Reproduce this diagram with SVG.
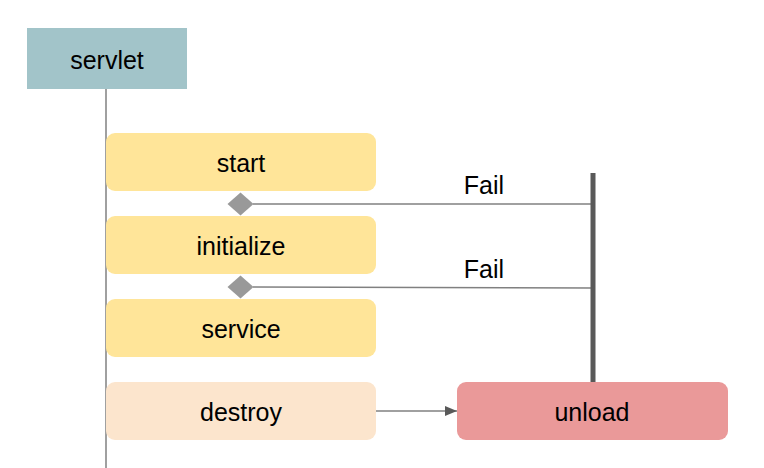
<svg xmlns="http://www.w3.org/2000/svg" width="764" height="468" viewBox="0 0 764 468">
<style>
text{font-family:"Liberation Sans",Arial,sans-serif;font-size:25px;fill:#000;text-anchor:middle;dominant-baseline:central}
.step{fill:#ffe599}
.conn{stroke:#808080;stroke-width:1.5;fill:none}
</style>
<defs>
<marker id="arr" markerWidth="12" markerHeight="10" refX="12" refY="5" orient="auto" markerUnits="userSpaceOnUse">
<path d="M0,0 L12,5 L0,10 Z" fill="#595959"/>
</marker>
</defs>
<rect width="764" height="468" fill="#fff"/>
<g id="connectors">
<line class="conn" x1="106" y1="89" x2="106" y2="468"/>
<line class="conn" x1="253" y1="204" x2="593" y2="204"/>
<line class="conn" x1="253" y1="287" x2="593" y2="288"/>
<line x1="593" y1="173" x2="593" y2="382" stroke="#595959" stroke-width="5"/>
<line class="conn" x1="376" y1="411" x2="457" y2="411" marker-end="url(#arr)"/>
<polygon points="227.5,204 240.5,192.5 253.5,204 240.5,215.5" fill="#999"/>
<polygon points="227.5,287 240.5,275.5 253.5,287 240.5,298.5" fill="#999"/>
<text x="484" y="185">Fail</text>
<text x="484" y="269">Fail</text>
</g>
<g id="servlet"><rect x="27" y="28" width="160" height="61" fill="#a2c4c9"/><text x="107" y="60">servlet</text></g>
<g id="start"><rect class="step" x="106" y="133" width="270" height="58" rx="9"/><text x="241" y="163">start</text></g>
<g id="initialize"><rect class="step" x="106" y="216" width="270" height="58" rx="9"/><text x="241" y="246">initialize</text></g>
<g id="service"><rect class="step" x="106" y="299" width="270" height="58" rx="9"/><text x="241" y="329">service</text></g>
<g id="destroy"><rect x="106" y="382" width="270" height="58" rx="9" fill="#fce5cd"/><text x="241" y="412">destroy</text></g>
<g id="unload"><rect x="457" y="382" width="271" height="58" rx="9" fill="#ea9999"/><text x="592" y="412">unload</text></g>
</svg>
